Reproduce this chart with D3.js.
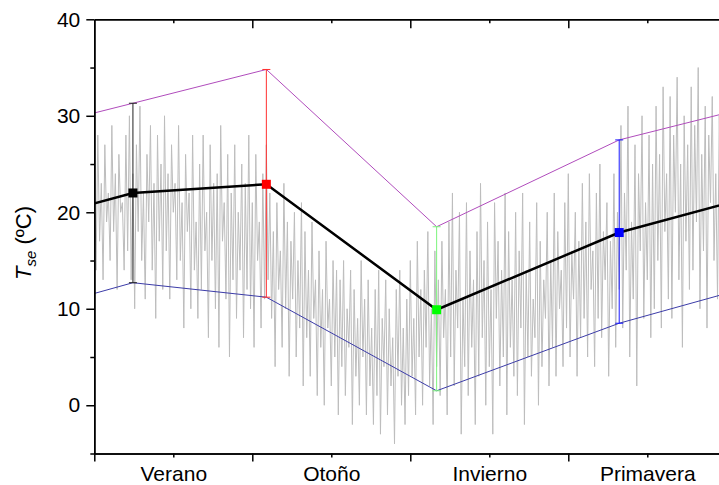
<!DOCTYPE html>
<html>
<head>
<meta charset="utf-8">
<script src="https://cdn.jsdelivr.net/npm/d3@7"></script>
<style>
  body { margin: 0; background: #fff; }
  svg text { font-family: "Liberation Sans", Arial, sans-serif; }
</style>
</head>
<body>
<div id="chart"></div>
<script>
// seasonal surface temperature: daily series + seasonal mean / max / min

const seasons = ["Verano", "Otoño", "Invierno", "Primavera"];
const seasonMid = [45, 135, 225, 315];       // label ticks (days)
const seasonEdge = [0, 90, 180, 270, 360];   // boundary ticks (days)
const yMajor = [0, 10, 20, 30, 40];
const yMinor = [-5, 5, 15, 25, 35];

// seasonal statistics (day of year where they are plotted)
const statDay = [22, 98, 195, 299];
const statMean = [22.0, 22.9, 9.9, 17.9];
const statMax = [31.3, 34.8, 18.5, 27.5];
const statMin = [12.7, 11.2, 1.5, 8.5];
const statColor = ["#000000", "#ff0000", "#00ff00", "#0000ff"];
const barColor = ["#222222", "#ff3030", "#7cf47c", "#1a1aff"];

// daily temperature (one value per day)
const daily = [
  25, 14, 28, 17, 23, 13, 27, 19, 22, 15, 29, 18, 24, 12, 26, 20, 21, 14, 28, 16,
  30, 13, 24, 10, 27, 18, 31, 15, 22, 11, 26, 19, 29, 14, 23, 9, 28, 17, 25, 12,
  30, 16, 24, 11, 27, 20, 23, 13, 29, 15, 21, 8, 26, 18, 22, 10, 28, 14, 19, 9,
  25, 12, 28, 16, 20, 7, 27, 15, 23, 10, 24, 6, 29, 17, 21, 11, 26, 5, 22, 13,
  27, 9, 20, 14, 25, 7, 23, 12, 28, 10, 21, 6, 26, 15, 19, 8, 24, 11, 27, 13,
  22, 9, 18, 4, 21, 12, 16, 6, 23, 10, 19, 3, 17, 11, 20, 5, 15, 8, 21, 2,
  18, 7, 14, 3, 19, 9, 13, 1, 16, 6, 12, 0, 17, 8, 11, 2, 15, 5, 14, -1,
  13, 4, 15, 1, 10, 6, 14, -2, 12, 3, 9, 0, 15, 5, 11, -1, 13, 2, 8, -2,
  12, 1, 14, -3, 9, 4, 13, -1, 10, 2, 7, -4, 12, 3, 14, 0, 8, -2, 11, 1,
  15, 3, 9, -1, 17, 5, 12, 0, 14, 6, 18, 2, 10, -2, 16, 4, 13, 1, 17, 7,
  12, -1, 19, 5, 22, 2, 14, 8, 20, -3, 11, 4, 21, 1, 16, 6, 13, -2, 18, 3,
  23, 7, 15, 0, 19, 4, 12, -3, 21, 9, 17, 2, 14, 5, 22, -1, 18, 6, 13, 3,
  20, 1, 16, 8, 22, -2, 14, 5, 19, 3, 11, 7, 21, 0, 17, 4, 13, 9, 20, 2,
  15, 6, 22, 3, 18, 10, 14, 4, 21, 8, 24, 5, 16, 11, 20, 3, 17, 7, 23, 9,
  19, 5, 24, 12, 16, 4, 22, 9, 25, 7, 18, 13, 21, 3, 17, 10, 24, 6, 20, 12,
  29, 8, 22, 14, 31, 5, 19, 11, 27, 2, 24, 16, 30, 9, 21, 13, 28, 7, 25, 10,
  31, 15, 26, 8, 33, 18, 24, 11, 32, 9, 28, 20, 34, 13, 25, 6, 30, 17, 27, 12,
  33, 14, 29, 19, 35, 10, 26, 16, 31, 8, 28, 21, 32, 15, 24, 11, 30, 18, 27, 13
];

const W = 719, H = 485;
const plotL = 94.3, plotR = 726.3, plotT = 19.3, plotB = 453.5;

const svg = d3.select("#chart").append("svg")
  .attr("width", W).attr("height", H);

const x = d3.scaleLinear().domain([0, 360]).range([plotL, plotR]);
const y = d3.scaleLinear().domain([-5, 40]).range([plotB, plotT]);

svg.append("clipPath").attr("id", "plot")
  .append("rect")
  .attr("x", plotL).attr("y", plotT)
  .attr("width", plotR - plotL).attr("height", plotB - plotT);

const plot = svg.append("g").attr("clip-path", "url(#plot)");

// daily series
plot.append("path")
  .datum(daily)
  .attr("fill", "none")
  .attr("stroke", "#bdbdbd")
  .attr("stroke-width", 1)
  .attr("d", d3.line().x((d, i) => x(i)).y(d => y(d)));

// the year wraps around: repeat last season before and first season after
function wrapped(vals) {
  const n = statDay.length;
  const pts = statDay.map((d, i) => [d, vals[i]]);
  pts.unshift([statDay[n - 1] - 360, vals[n - 1]]);
  pts.push([statDay[0] + 360, vals[0]]);
  return pts;
}
const line = d3.line().x(d => x(d[0])).y(d => y(d[1]));

plot.append("path").datum(wrapped(statMax))
  .attr("fill", "none").attr("stroke", "#b04cbc").attr("stroke-width", 1)
  .attr("d", line);
plot.append("path").datum(wrapped(statMin))
  .attr("fill", "none").attr("stroke", "#3c3ca8").attr("stroke-width", 1)
  .attr("d", line);

// range bars
statDay.forEach((d, i) => {
  const g = plot.append("g").attr("stroke", barColor[i]).attr("stroke-width", 1);
  g.append("line")
    .attr("x1", x(d)).attr("x2", x(d))
    .attr("y1", y(statMin[i])).attr("y2", y(statMax[i]));
  [statMin[i], statMax[i]].forEach(v => {
    g.append("line")
      .attr("x1", x(d) - 4).attr("x2", x(d) + 4)
      .attr("y1", y(v)).attr("y2", y(v));
  });
});

// mean line
plot.append("path").datum(wrapped(statMean))
  .attr("fill", "none").attr("stroke", "#000").attr("stroke-width", 2.5)
  .attr("d", line);

plot.selectAll(".mk")
  .data(statDay)
  .enter().append("rect")
  .attr("class", "mk")
  .attr("x", d => x(d) - 4.5)
  .attr("y", (d, i) => y(statMean[i]) - 4.5)
  .attr("width", 9).attr("height", 9)
  .attr("fill", (d, i) => statColor[i]);

// axes
function styleAxis(g) {
  g.select(".domain").attr("stroke", "#000").attr("stroke-width", 1.5);
  g.selectAll(".tick line").attr("stroke", "#000").attr("stroke-width", 1.5);
  g.selectAll("text").attr("font-size", "21px").attr("fill", "#000")
    .attr("font-family", "Liberation Sans, Arial, sans-serif");
}

svg.append("g")
  .attr("transform", `translate(0,${plotB})`)
  .call(d3.axisBottom(x).tickValues(seasonEdge).tickSizeInner(8).tickSizeOuter(0).tickFormat(""))
  .call(styleAxis);
svg.append("g")
  .attr("transform", `translate(0,${plotB})`)
  .call(d3.axisBottom(x).tickValues(seasonMid).tickSizeInner(4).tickSizeOuter(0)
    .tickPadding(9).tickFormat((d, i) => seasons[i]))
  .call(styleAxis);

svg.append("g")
  .attr("transform", `translate(0,${plotT})`)
  .call(d3.axisTop(x).tickValues(seasonEdge.slice(1, 4)).tickSizeInner(-9).tickSizeOuter(0).tickFormat(""))
  .call(styleAxis);
svg.append("g")
  .attr("transform", `translate(0,${plotT})`)
  .call(d3.axisTop(x).tickValues(seasonMid).tickSizeInner(-4).tickSizeOuter(0).tickFormat(""))
  .call(styleAxis);

svg.append("g")
  .attr("transform", `translate(${plotL},0)`)
  .call(d3.axisLeft(y).tickValues(yMajor).tickSizeInner(8).tickSizeOuter(0).tickPadding(6))
  .call(styleAxis);
svg.append("g")
  .attr("transform", `translate(${plotL},0)`)
  .call(d3.axisLeft(y).tickValues(yMinor).tickSizeInner(4).tickSizeOuter(0).tickFormat(""))
  .call(styleAxis);

// y label
const yl = svg.append("text")
  .attr("transform", "translate(31,243) rotate(-90)")
  .attr("text-anchor", "middle")
  .attr("font-size", "22px")
  .attr("fill", "#000");
yl.append("tspan").attr("font-style", "italic").text("T");
yl.append("tspan").attr("font-style", "italic").attr("font-size", "15px").attr("dy", "5").text("se");
yl.append("tspan").attr("dy", "-5").text(" (ºC)");
</script>
</body>
</html>
